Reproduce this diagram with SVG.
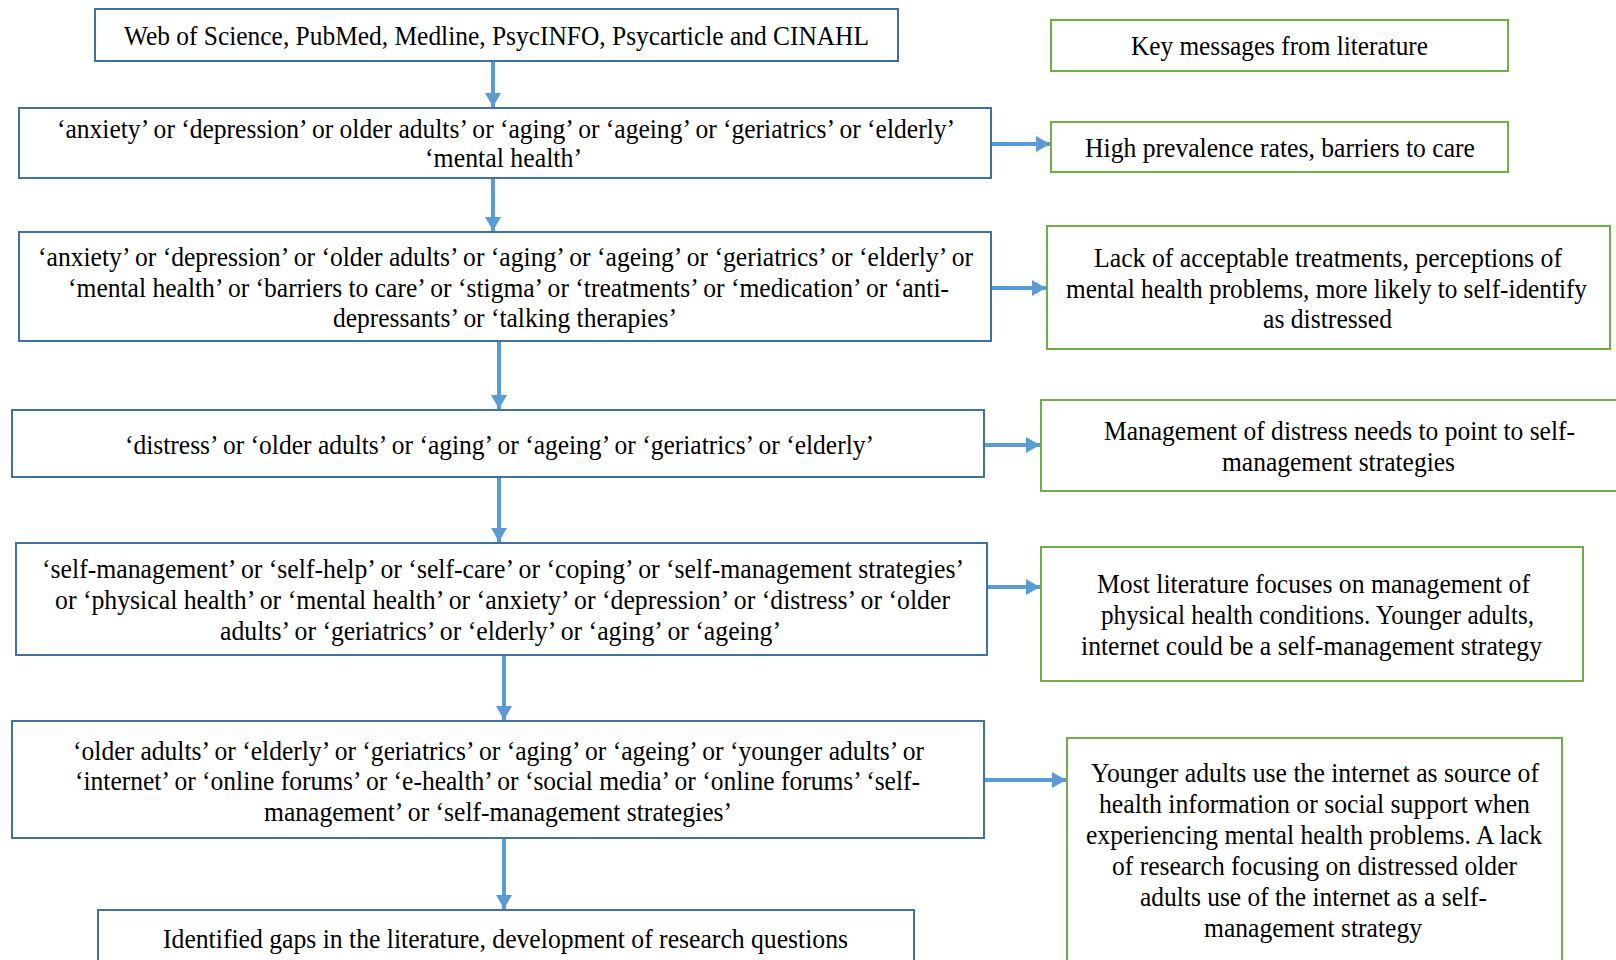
<svg xmlns="http://www.w3.org/2000/svg" width="1616" height="960" viewBox="0 0 1616 960">
<style>
.b{fill:#fff;stroke:#41719C;stroke-width:2}
.g{fill:#fff;stroke:#70AD47;stroke-width:2}
text{font-family:"Liberation Serif","Times New Roman",serif;font-size:27px;fill:#000}
.c{stroke:#5B9BD5;stroke-width:4;fill:none}
</style>
<defs>
<marker id="ah" markerUnits="userSpaceOnUse" markerWidth="14" markerHeight="16" refX="14" refY="8" orient="auto">
<path d="M0,0 L14,8 L0,16 z" fill="#5B9BD5"/>
</marker>
</defs>
<rect width="1616" height="960" fill="#fff"/>
<g id="connectors">
<line class="c" x1="493" y1="62" x2="493" y2="107" marker-end="url(#ah)"/>
<line class="c" x1="493" y1="179" x2="493" y2="231" marker-end="url(#ah)"/>
<line class="c" x1="499" y1="342" x2="499" y2="409" marker-end="url(#ah)"/>
<line class="c" x1="499" y1="478" x2="499" y2="542" marker-end="url(#ah)"/>
<line class="c" x1="504" y1="656" x2="504" y2="720" marker-end="url(#ah)"/>
<line class="c" x1="504" y1="839" x2="504" y2="909" marker-end="url(#ah)"/>
<line class="c" x1="992" y1="144" x2="1050" y2="144" marker-end="url(#ah)"/>
<line class="c" x1="992" y1="288" x2="1046" y2="288" marker-end="url(#ah)"/>
<line class="c" x1="985" y1="445" x2="1040" y2="445" marker-end="url(#ah)"/>
<line class="c" x1="988" y1="587" x2="1040" y2="587" marker-end="url(#ah)"/>
<line class="c" x1="985" y1="780" x2="1066" y2="780" marker-end="url(#ah)"/>
</g>
<g id="n1"><rect class="b" x="95" y="9" width="803" height="52"/>
<text x="124" y="45" textLength="745" lengthAdjust="spacingAndGlyphs">Web of Science, PubMed, Medline, PsycINFO, Psycarticle and CINAHL</text></g>
<g id="n2"><rect class="b" x="19" y="108" width="972" height="70"/>
<text x="57" y="138" textLength="898" lengthAdjust="spacingAndGlyphs">‘anxiety’ or ‘depression’ or older adults’ or ‘aging’ or ‘ageing’ or ‘geriatrics’ or ‘elderly’</text>
<text x="425" y="167" textLength="157" lengthAdjust="spacingAndGlyphs">‘mental health’</text></g>
<g id="n3"><rect class="b" x="19" y="232" width="972" height="109"/>
<text x="38" y="266" textLength="935" lengthAdjust="spacingAndGlyphs">‘anxiety’ or ‘depression’ or ‘older adults’ or ‘aging’ or ‘ageing’ or ‘geriatrics’ or ‘elderly’ or</text>
<text x="68" y="297" textLength="881" lengthAdjust="spacingAndGlyphs">‘mental health’ or ‘barriers to care’ or ‘stigma’ or ‘treatments’ or ‘medication’ or ‘anti-</text>
<text x="333" y="327" textLength="344" lengthAdjust="spacingAndGlyphs">depressants’ or ‘talking therapies’</text></g>
<g id="n4"><rect class="b" x="12" y="410" width="972" height="67"/>
<text x="125" y="454" textLength="749" lengthAdjust="spacingAndGlyphs">‘distress’ or ‘older adults’ or ‘aging’ or ‘ageing’ or ‘geriatrics’ or ‘elderly’</text></g>
<g id="n5"><rect class="b" x="16" y="543" width="971" height="112"/>
<text x="42" y="578" textLength="922" lengthAdjust="spacingAndGlyphs">‘self-management’ or ‘self-help’ or ‘self-care’ or ‘coping’ or ‘self-management strategies’</text>
<text x="55" y="609" textLength="895" lengthAdjust="spacingAndGlyphs">or ‘physical health’ or ‘mental health’ or ‘anxiety’ or ‘depression’ or ‘distress’ or ‘older</text>
<text x="220" y="640" textLength="561" lengthAdjust="spacingAndGlyphs">adults’ or ‘geriatrics’ or ‘elderly’ or ‘aging’ or ‘ageing’</text></g>
<g id="n6"><rect class="b" x="12" y="721" width="972" height="117"/>
<text x="73" y="760" textLength="851" lengthAdjust="spacingAndGlyphs">‘older adults’ or ‘elderly’ or ‘geriatrics’ or ‘aging’ or ‘ageing’ or ‘younger adults’ or</text>
<text x="75" y="790" textLength="845" lengthAdjust="spacingAndGlyphs">‘internet’ or ‘online forums’ or ‘e-health’ or ‘social media’ or ‘online forums’ ‘self-</text>
<text x="264" y="821" textLength="468" lengthAdjust="spacingAndGlyphs">management’ or ‘self-management strategies’</text></g>
<g id="n7"><rect class="b" x="98" y="910" width="816" height="60"/>
<text x="163" y="948" textLength="685" lengthAdjust="spacingAndGlyphs">Identified gaps in the literature, development of research questions</text></g>
<g id="k1"><rect class="g" x="1051" y="20" width="457" height="51"/>
<text x="1131" y="55" textLength="297" lengthAdjust="spacingAndGlyphs">Key messages from literature</text></g>
<g id="k2"><rect class="g" x="1051" y="122" width="457" height="50"/>
<text x="1085" y="157" textLength="390" lengthAdjust="spacingAndGlyphs">High prevalence rates, barriers to care</text></g>
<g id="k3"><rect class="g" x="1047" y="226" width="563" height="123"/>
<text x="1094" y="267" textLength="468" lengthAdjust="spacingAndGlyphs">Lack of acceptable treatments, perceptions of</text>
<text x="1066" y="298" textLength="521" lengthAdjust="spacingAndGlyphs">mental health problems, more likely to self-identify</text>
<text x="1263" y="328" textLength="129" lengthAdjust="spacingAndGlyphs">as distressed</text></g>
<g id="k4"><rect class="g" x="1041" y="400" width="585" height="91"/>
<text x="1104" y="440" textLength="471" lengthAdjust="spacingAndGlyphs">Management of distress needs to point to self-</text>
<text x="1222" y="471" textLength="233" lengthAdjust="spacingAndGlyphs">management strategies</text></g>
<g id="k5"><rect class="g" x="1041" y="547" width="542" height="134"/>
<text x="1097" y="593" textLength="433" lengthAdjust="spacingAndGlyphs">Most literature focuses on management of</text>
<text x="1101" y="624" textLength="433" lengthAdjust="spacingAndGlyphs">physical health conditions. Younger adults,</text>
<text x="1081" y="655" textLength="461" lengthAdjust="spacingAndGlyphs">internet could be a self-management strategy</text></g>
<g id="k6"><rect class="g" x="1067" y="738" width="495" height="240"/>
<text x="1091" y="782" textLength="448" lengthAdjust="spacingAndGlyphs">Younger adults use the internet as source of</text>
<text x="1099" y="813" textLength="431" lengthAdjust="spacingAndGlyphs">health information or social support when</text>
<text x="1086" y="844" textLength="456" lengthAdjust="spacingAndGlyphs">experiencing mental health problems. A lack</text>
<text x="1112" y="875" textLength="405" lengthAdjust="spacingAndGlyphs">of research focusing on distressed older</text>
<text x="1140" y="906" textLength="347" lengthAdjust="spacingAndGlyphs">adults use of the internet as a self-</text>
<text x="1204" y="937" textLength="218" lengthAdjust="spacingAndGlyphs">management strategy</text></g>
</svg>
